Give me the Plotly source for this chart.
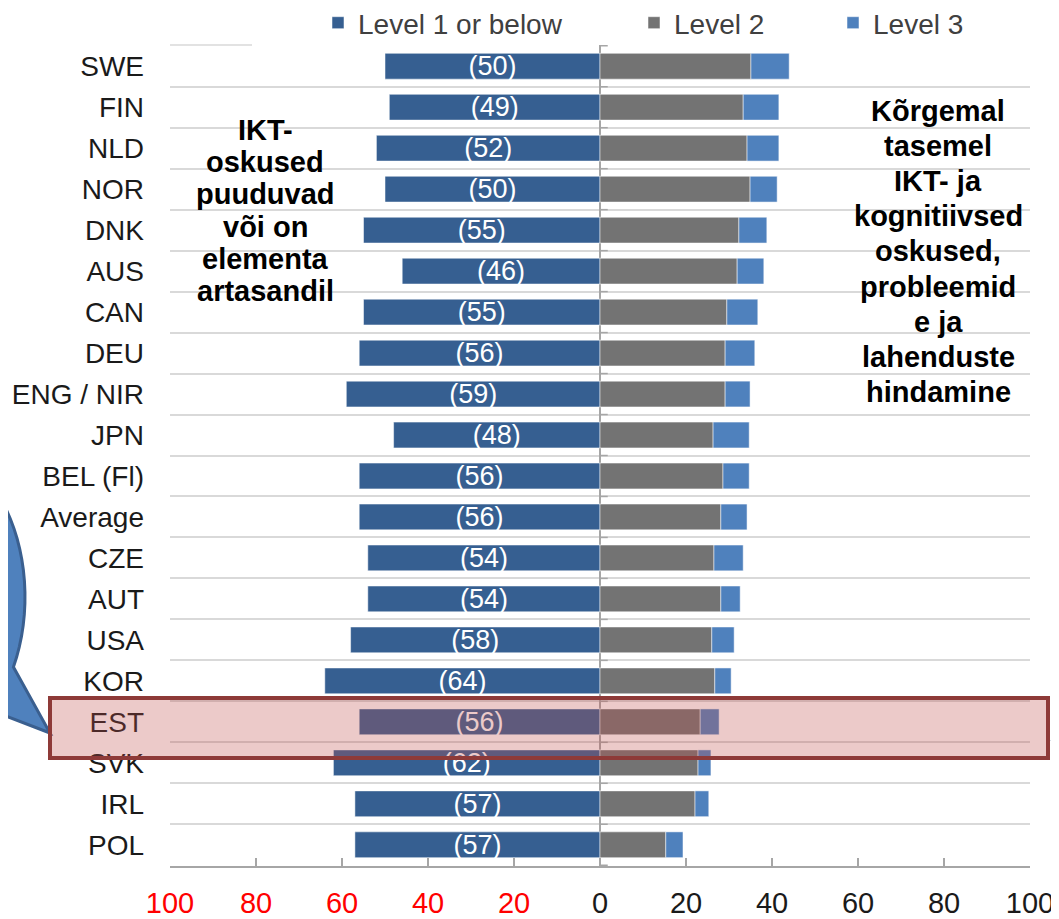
import math
import plotly.graph_objects as go

# ---------------- data ----------------
countries = ["SWE", "FIN", "NLD", "NOR", "DNK", "AUS", "CAN", "DEU", "ENG / NIR", "JPN",
             "BEL (Fl)", "Average", "CZE", "AUT", "USA", "KOR", "EST", "SVK", "IRL", "POL"]
level1 = [50, 49, 52, 50, 55, 46, 55, 56, 59, 48, 56, 56, 54, 54, 58, 64, 56, 62, 57, 57]
level2 = [35.1, 33.3, 34.2, 34.9, 32.3, 31.9, 29.5, 29.1, 29.1, 26.3,
          28.6, 28.1, 26.5, 28.1, 26.0, 26.7, 23.3, 22.8, 22.1, 15.3]
level3 = [8.9, 8.3, 7.4, 6.3, 6.5, 6.2, 7.2, 6.9, 5.8, 8.4,
          6.1, 6.1, 6.8, 4.5, 5.2, 3.8, 4.4, 3.0, 3.2, 4.0]
series_names = ["Level 1 or below", "Level 2", "Level 3"]
tick_values = [-100, -80, -60, -40, -20, 0, 20, 40, 60, 80, 100]
tick_labels = ["100", "80", "60", "40", "20", "0", "20", "40", "60", "80", "100"]
left_note = ["IKT-", "oskused", "puuduvad", "või on", "elementa", "artasandil"]
right_note = ["Kõrgemal", "tasemel", "IKT- ja", "kognitiivsed", "oskused,",
              "probleemid", "e ja", "lahenduste", "hindamine"]

# ---------------- layout geometry ----------------
# the page body has an 8px margin, so the figure is drawn 8px in from the page corner
OFF = 8
W, H = 1059 - OFF, 919 - OFF
PL, PR, PT, PB = 170, 1030, 45, 866          # plot area in page pixels
ML, MR, MT, MB = PL - OFF, W - (PR - OFF), PT - OFF, H - (PB - OFF)
FONT = "Arial, Liberation Sans, sans-serif"


def px(x):
    return (x - PL) / (PR - PL)


def py(y):
    return (PB - y) / (PB - PT)


C1, C2, C3 = "#365F91", "#737373", "#4F81BD"
EDGE = dict(color="rgba(255,255,255,0.5)", width=1)

fig = go.Figure()
fig.add_trace(go.Bar(
    y=countries, x=[-v for v in level1], orientation="h", name=series_names[0],
    marker=dict(color=C1, line=EDGE),
    text=[f"({v})" for v in level1], textposition="inside", insidetextanchor="middle",
    textangle=0, constraintext="none",
    textfont=dict(color="white", size=27, family=FONT), legend="legend"))
fig.add_trace(go.Bar(
    y=countries, x=level2, orientation="h", name=series_names[1],
    marker=dict(color=C2, line=EDGE), legend="legend2"))
fig.add_trace(go.Bar(
    y=countries, x=level3, orientation="h", name=series_names[2],
    marker=dict(color=C3, line=EDGE), legend="legend3"))

ticktext = [f'<span style="color:#FF0000">{t}</span>' if v < 0 else t
            for v, t in zip(tick_values, tick_labels)]

shapes = []
# white boxes behind the notes (cover gridlines)
shapes.append(dict(type="rect", xref="paper", yref="paper", layer="between",
                   x0=px(170), x1=px(345), y0=py(366), y1=py(90),
                   fillcolor="white", line=dict(width=0)))
shapes.append(dict(type="rect", xref="paper", yref="paper", layer="between",
                   x0=px(833), x1=px(1040), y0=py(405), y1=py(40),
                   fillcolor="white", line=dict(width=0)))
# short top gridline segment (rest hidden by legend box)
shapes.append(dict(type="line", xref="paper", yref="paper", layer="between",
                   x0=0, x1=px(252), y0=1, y1=1,
                   line=dict(color="#D9D9D9", width=1.5)))
# category-boundary tick marks on the zero line
for i in range(len(countries) + 1):
    shapes.append(dict(type="line", xref="x", yref="y", layer="above",
                       x0=0, x1=1.8, y0=i - 0.5, y1=i - 0.5,
                       line=dict(color="#A6A6A6", width=1.5)))

# speech bubble (left, partially off-page)
cx, cy, rx, ry = -75, 597, 100, 150
t0, t1 = 0.855, 0.486 + 2 * math.pi
n = 80
pts = []
for i in range(n + 1):
    t = t0 + (t1 - t0) * i / n
    pts.append((cx + rx * math.cos(t), cy + ry * math.sin(t)))
pts.append((50, 733))
path = "M" + " L".join(f"{px(x):.5f},{py(y):.5f}" for x, y in pts) + " Z"
shapes.append(dict(type="path", xref="paper", yref="paper", path=path, layer="above",
                   fillcolor="#4F81BD", line=dict(color="#3A5F8F", width=3)))

# small arrow fragment at right edge
arrow = [(1059, 728), (1051, 741), (1059, 746)]
apath = "M" + " L".join(f"{px(x):.5f},{py(y):.5f}" for x, y in arrow) + " Z"
shapes.append(dict(type="path", xref="paper", yref="paper", path=apath, layer="above",
                   fillcolor="#4F81BD", line=dict(color="#3A5F8F", width=1)))

# highlight rectangle around EST
shapes.append(dict(type="rect", xref="paper", yref="paper", layer="above",
                   x0=px(50), x1=px(1048), y0=py(758), y1=py(698),
                   fillcolor="rgba(192,80,77,0.3)", line=dict(color="#8E3A38", width=4)))

annotations = []
for i, line in enumerate(left_note):
    annotations.append(dict(text=f"<b>{line}</b>", xref="paper", yref="paper",
                            x=px(265), y=py(130 + 32.2 * i), xanchor="center",
                            yanchor="middle", showarrow=False,
                            font=dict(size=29, color="black", family=FONT)))
for i, line in enumerate(right_note):
    annotations.append(dict(text=f"<b>{line}</b>", xref="paper", yref="paper",
                            x=px(938), y=py(111 + 35.1 * i), xanchor="center",
                            yanchor="middle", showarrow=False,
                            font=dict(size=29, color="black", family=FONT)))

legend_common = dict(orientation="h", yanchor="middle", xanchor="left", y=py(23),
                     font=dict(size=28, color="#404040", family=FONT),
                     bgcolor="rgba(255,255,255,0)", borderwidth=0)

fig.update_layout(
    width=W, height=H,
    margin=dict(l=ML, r=MR, t=MT, b=MB, autoexpand=False),
    paper_bgcolor="white", plot_bgcolor="white",
    barmode="relative", bargap=0.37,
    font=dict(family=FONT, color="#1a1a1a"),
    showlegend=True,
    legend=dict(x=px(318), **legend_common),
    legend2=dict(x=px(634), **legend_common),
    legend3=dict(x=px(833), **legend_common),
    xaxis=dict(range=[-100, 100], tickvals=tick_values, ticktext=ticktext,
               showgrid=False, zeroline=True, zerolinecolor="#A6A6A6", zerolinewidth=2,
               showline=True, linecolor="#A6A6A6", linewidth=2,
               ticks="inside", ticklen=8, tickcolor="#A6A6A6", tickwidth=1.5,
               ticklabelstandoff=10, automargin=False,
               tickfont=dict(size=29, color="#1a1a1a", family=FONT), fixedrange=True),
    yaxis=dict(autorange="reversed", tickson="boundaries", showgrid=True,
               gridcolor="#D9D9D9", gridwidth=1.5, ticks="", showline=False,
               ticklabelstandoff=25, automargin=False,
               tickfont=dict(size=28, color="#1a1a1a", family=FONT), fixedrange=True),
    shapes=shapes, annotations=annotations,
)

fig.write_html("out.html")
